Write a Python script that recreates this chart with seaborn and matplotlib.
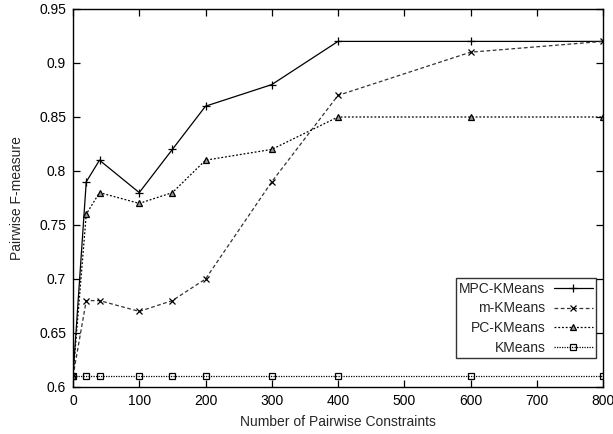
import matplotlib
matplotlib.use("Agg")
import matplotlib.pyplot as plt
import seaborn as sns
import pandas as pd
import numpy as np

# Data
constraints = [0, 20, 40, 100, 150, 200, 300, 400, 600, 800]
mpc_kmeans = [0.61, 0.79, 0.81, 0.78, 0.82, 0.86, 0.88, 0.92, 0.92, 0.92]
m_kmeans = [0.61, 0.68, 0.68, 0.67, 0.68, 0.70, 0.79, 0.87, 0.91, 0.92]
pc_kmeans = [0.61, 0.76, 0.78, 0.77, 0.78, 0.81, 0.82, 0.85, 0.85, 0.85]
kmeans = [0.61, 0.61, 0.61, 0.61, 0.61, 0.61, 0.61, 0.61, 0.61, 0.61]

series_names = ["MPC-KMeans", "m-KMeans", "PC-KMeans", "KMeans"]
x_ticks = [0, 100, 200, 300, 400, 500, 600, 700, 800]
y_ticks = [0.6, 0.65, 0.7, 0.75, 0.8, 0.85, 0.9, 0.95]

sns.set_theme(style="ticks")
plt.rcParams['font.family'] = ['Liberation Sans', 'DejaVu Sans']

fig = plt.figure(figsize=(6.13, 4.34), dpi=100)
ax = fig.add_axes([73 / 613, 47 / 434, 530 / 613, 378 / 434])

styles = [
    dict(linestyle="-", marker="+", markersize=5.5, color="black", mec="black"),
    dict(linestyle=(0, (3, 2)), marker="x", markersize=4, color="#333333", mec="black"),
    dict(linestyle=(0, (1.5, 1.5)), marker="^", markersize=4, color="black",
         mec="black", mfc="#999999"),
    dict(linestyle=(0, (1, 1)), marker="s", markersize=4, color="black",
         mec="black", mfc="none"),
]
values = [mpc_kmeans, m_kmeans, pc_kmeans, kmeans]

for name, vals, st in zip(series_names, values, styles):
    sns.lineplot(x=constraints, y=vals, ax=ax, label=name, linewidth=0.9,
                 markeredgewidth=0.9, **st)

ax.set_xlim(0, 800)
ax.set_ylim(0.6, 0.95)
ax.set_xticks(x_ticks)
ax.set_yticks(y_ticks)
ax.set_yticklabels([f"{v:g}" for v in y_ticks])
ax.tick_params(direction="in", length=5, width=0.9, top=True, right=True,
               labelsize=10, colors="black")
ax.tick_params(axis="x", pad=5)
ax.tick_params(axis="y", pad=5)
for sp in ax.spines.values():
    sp.set_linewidth(1.0)
    sp.set_color("black")
    sp.set_visible(True)

ax.set_xlabel("Number of Pairwise Constraints", fontsize=10, labelpad=5)
ax.set_ylabel("Pairwise F-measure", fontsize=10, labelpad=11)

leg = ax.legend(loc="lower right", bbox_to_anchor=(523 / 530, 29 / 378),
                borderaxespad=0, frameon=True, fancybox=False, fontsize=10,
                markerfirst=False, handlelength=2.8, labelspacing=0.4,
                borderpad=0.25, handletextpad=0.6)
leg.get_frame().set_edgecolor("black")
leg.get_frame().set_linewidth(1.0)
for col in leg._legend_handle_box.get_children():
    col.align = "right"

fig.savefig("out.png", dpi=100)
